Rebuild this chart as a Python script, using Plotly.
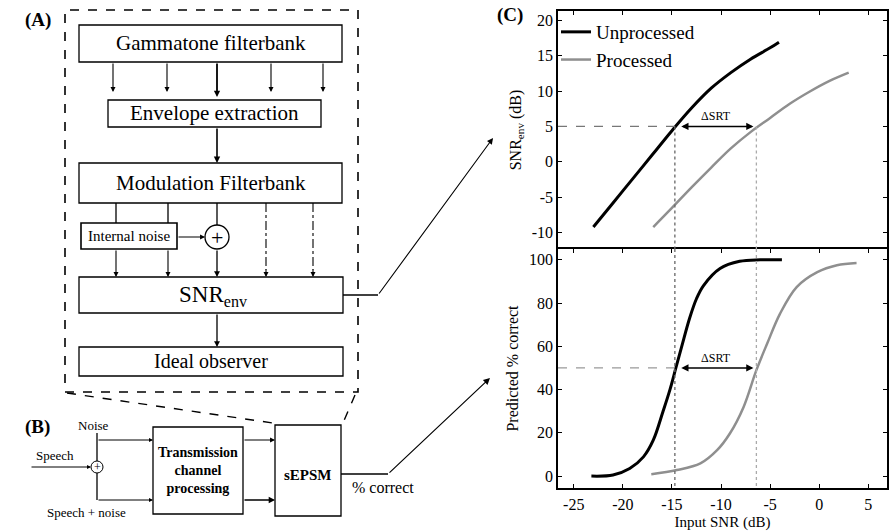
import plotly.graph_objects as go

W, H = 896, 532
FONT = "Liberation Serif, Times New Roman, Tinos, DejaVu Serif, serif"

# ---------------- data ----------------
snr_top_unproc = [-23.0, -21.0, -19.0, -17.0, -15.0, -13.0, -11.0, -9.0, -7.0, -5.0, -4.1]
env_unproc = [-9.2, -5.8, -2.4, 1.0, 4.4, 7.6, 10.4, 12.6, 14.5, 16.1, 16.9]
snr_top_proc = [-16.9, -15.0, -13.0, -11.0, -9.0, -7.0, -5.0, -3.0, -1.0, 1.0, 3.0]
env_proc = [-9.2, -6.5, -3.6, -0.8, 1.9, 4.2, 6.2, 8.2, 9.9, 11.4, 12.6]

snr_bot_unproc = [-23.2, -21.0, -19.3, -17.9, -16.9, -15.9, -15.2, -14.6, -14.0,
                  -13.2, -12.5, -11.8, -10.1, -8.1, -6.0, -3.8]
pc_unproc = [0.0, 0.5, 3.5, 8.9, 16.6, 30.0, 40.0, 50.0, 60.0,
             73.0, 82.0, 88.0, 96.0, 99.3, 100.0, 100.0]
snr_bot_proc = [-17.1, -14.5, -12.1, -10.4, -9.1, -7.7, -6.4, -5.3, -4.0,
                -2.3, -0.2, 1.8, 3.8]
pc_proc = [0.9, 2.8, 5.9, 12.0, 19.7, 32.0, 49.0, 61.3, 75.0,
           87.4, 94.3, 97.5, 98.5]

x_ticks = [-25, -20, -15, -10, -5, 0, 5]
x_ticktext = ["-25", "-20", "-15", "-10", "-5", "0", "5"]
y1_ticks = [-10, -5, 0, 5, 10, 15, 20]
y1_ticktext = ["-10", "-5", "0", "5", "10", "15", "20"]
y2_ticks = [0, 20, 40, 60, 80, 100]
y2_ticktext = ["0", "20", "40", "60", "80", "100"]

srt_unproc = -14.7
srt_proc = -6.4
env_criterion = 5
pc_criterion = 50

# ---------------- helpers ----------------
def px(x):
    return x / W

def py(y):
    return 1 - y / H

shapes = []
annotations = []

def box(x0, y0, x1, y1, dash="solid", width=1.3):
    shapes.append(dict(type="rect", xref="paper", yref="paper",
                       x0=px(x0), x1=px(x1), y0=py(y1), y1=py(y0),
                       line=dict(color="black", width=width, dash=dash)))

def line(x0, y0, x1, y1, dash="solid", width=1.3, color="black"):
    shapes.append(dict(type="line", xref="paper", yref="paper",
                       x0=px(x0), x1=px(x1), y0=py(y0), y1=py(y1),
                       line=dict(color=color, width=width, dash=dash)))

def arrow(tx, ty, hx, hy, width=1.2, size=1.0):
    annotations.append(dict(xref="paper", yref="paper", x=px(hx), y=py(hy),
                            ax=tx - hx, ay=ty - hy, text="", showarrow=True,
                            arrowhead=2, arrowsize=size, arrowwidth=width,
                            arrowcolor="black", standoff=0, startstandoff=0))

def text(x, y, s, size=18, bold=False, xanchor="center"):
    if bold:
        s = "<b>" + s + "</b>"
    annotations.append(dict(xref="paper", yref="paper", x=px(x), y=py(y),
                            text=s, showarrow=False, xanchor=xanchor,
                            yanchor="middle",
                            font=dict(family=FONT, size=size, color="black")))

def circle(cx, cy, r, width=1.3):
    shapes.append(dict(type="circle", xref="paper", yref="paper",
                       x0=px(cx - r), x1=px(cx + r), y0=py(cy + r), y1=py(cy - r),
                       line=dict(color="black", width=width)))

# ---------------- diagram (A) ----------------
box(65, 10, 358, 392, dash="dash", width=1.6)
text(38, 20, "(A)", 19, bold=True)

box(79, 25, 342, 62)
text(211, 43, "Gammatone filterbank", 21)
for xx in [113, 167, 271, 323]:
    arrow(xx, 62, xx, 92, width=1.1, size=0.9)
arrow(217, 62, 217, 97, width=1.8, size=0.7)

box(108, 100, 321, 127)
text(214, 113, "Envelope extraction", 21)
arrow(217, 127, 217, 163, width=1.6, size=0.8)

box(79, 163, 342, 203)
text(211, 183, "Modulation Filterbank", 21)

for xx in [116, 168]:
    line(xx, 203, xx, 223)
    arrow(xx, 249, xx, 277, width=1.1, size=0.9)
line(217, 203, 217, 225)
arrow(217, 249, 217, 277, width=1.3, size=0.9)
for xx in [266, 313]:
    line(xx, 203, xx, 270, dash="dashdot", width=1.1)
    arrow(xx, 268, xx, 277, width=1.1, size=0.9)

box(81, 223, 177, 249, width=1.6)
text(129, 236, "Internal noise", 15)
arrow(177, 237, 205, 237, width=1.1, size=0.9)
circle(217, 237, 12)
text(217, 237, "+", 22)

box(79, 277, 343, 313)
text(213, 296, "SNR<sub>env</sub>", 23)
arrow(217, 313, 217, 347, width=1.3, size=0.9)

box(79, 347, 343, 376)
text(211, 361, "Ideal observer", 20)

line(343, 295, 378, 295)
arrow(378, 295, 493, 138, width=1.1, size=1.1)

# ---------------- diagram (B) ----------------
text(37, 427, "(B)", 19, bold=True)
line(67, 393, 273, 423, dash="dash", width=1.4)
line(355, 395, 343, 423, dash="dash", width=1.4)

box(153, 427, 243, 514)
text(198, 470, "Transmission<br>channel<br>processing", 14, bold=True)
box(275, 425, 341, 516)
text(308, 475, "sEPSM", 15, bold=True)
arrow(243, 440, 275, 440, width=1.1, size=0.9)
arrow(243, 500, 275, 500, width=1.4, size=0.9)

text(93, 425, "Noise", 13)
text(55, 455, "Speech", 13)
text(86, 512, "Speech + noise", 13)
line(97, 433, 97, 461)
line(97, 473, 97, 500)
circle(97, 467, 6, width=1.0)
text(97, 467, "+", 12)
arrow(30, 467, 91, 467, width=1.0, size=0.8)
arrow(97, 440, 153, 440, width=1.0, size=0.8)
arrow(97, 500, 153, 500, width=1.0, size=0.8)

line(341, 474, 388, 474)
arrow(388, 474, 490, 378, width=1.2, size=1.1)
text(383, 487, "% correct", 16)

text(510, 15, "(C)", 19, bold=True)

# ---------------- plot (C) ----------------
fig = go.Figure()
fig.add_trace(go.Scatter(x=snr_top_unproc, y=env_unproc, mode="lines",
                         line=dict(color="black", width=3, shape="spline"),
                         name="Unprocessed", xaxis="x", yaxis="y"))
fig.add_trace(go.Scatter(x=snr_top_proc, y=env_proc, mode="lines",
                         line=dict(color="#8f8f8f", width=2.5, shape="spline"),
                         name="Processed", xaxis="x", yaxis="y"))
fig.add_trace(go.Scatter(x=snr_bot_unproc, y=pc_unproc, mode="lines",
                         line=dict(color="black", width=3, shape="spline"),
                         name="Unprocessed", showlegend=False, xaxis="x2", yaxis="y2"))
fig.add_trace(go.Scatter(x=snr_bot_proc, y=pc_proc, mode="lines",
                         line=dict(color="#8f8f8f", width=2.5, shape="spline"),
                         name="Processed", showlegend=False, xaxis="x2", yaxis="y2"))

XR = [-26.6, 6.9]
Y1R = [-12.3, 21.3]
Y2R = [-5.5, 105]

# reference lines
shapes.append(dict(type="line", xref="x", yref="y", x0=XR[0], x1=srt_unproc,
                   y0=env_criterion, y1=env_criterion,
                   line=dict(color="#777", width=1.3, dash="dash")))
shapes.append(dict(type="line", xref="x2", yref="y2", x0=XR[0], x1=srt_unproc,
                   y0=pc_criterion, y1=pc_criterion,
                   line=dict(color="#999", width=1.3, dash="dash")))
for xv, col in [(srt_unproc, "#666"), (srt_proc, "#aaa")]:
    shapes.append(dict(type="line", xref="x", yref="y", x0=xv, x1=xv,
                       y0=env_criterion, y1=Y1R[0],
                       line=dict(color=col, width=1.3, dash="dot")))
    shapes.append(dict(type="line", xref="x2", yref="y2", x0=xv, x1=xv,
                       y0=Y2R[1], y1=Y2R[0],
                       line=dict(color=col, width=1.3, dash="dot")))

for xa, ya, yv in [("x", "y", env_criterion), ("x2", "y2", pc_criterion)]:
    annotations.append(dict(xref=xa, yref=ya, x=srt_proc - 0.3, y=yv,
                            axref=xa, ayref=ya, ax=srt_unproc + 0.5, ay=yv,
                            text="", showarrow=True, arrowhead=2, arrowside="end+start",
                            arrowsize=0.9, arrowwidth=1.6, arrowcolor="black",
                            standoff=0, startstandoff=0))
    annotations.append(dict(xref=xa, yref=ya, x=(srt_proc + srt_unproc) / 2, y=yv,
                            text="ΔSRT", showarrow=False, yshift=10,
                            font=dict(family=FONT, size=12, color="black")))

axis_common = dict(showline=True, linecolor="black", linewidth=1.5,
                   ticks="inside", ticklen=4, tickcolor="black", showgrid=False,
                   zeroline=False, tickfont=dict(family=FONT, size=16, color="black"))

fig.update_layout(
    width=W, height=H, margin=dict(l=0, r=0, t=0, b=0),
    paper_bgcolor="white", plot_bgcolor="white",
    font=dict(family=FONT, color="black"),
    xaxis=dict(domain=[px(558), px(887)], range=XR, anchor="y", side="top",
               mirror=False, tickvals=x_ticks, ticktext=x_ticktext,
               showticklabels=False, **axis_common),
    yaxis=dict(domain=[py(249), py(11)], range=Y1R, anchor="x", mirror="ticks",
               tickvals=y1_ticks, ticktext=y1_ticktext,
               title=dict(text="SNR<sub>env</sub> (dB)", standoff=6,
                          font=dict(family=FONT, size=16, color="black")),
               **axis_common),
    xaxis2=dict(domain=[px(558), px(887)], range=XR, anchor="y2", mirror="ticks",
                tickvals=x_ticks, ticktext=x_ticktext, ticklabelstandoff=1,
                title=dict(text="Input SNR (dB)", standoff=5,
                           font=dict(family=FONT, size=15, color="black")),
                **axis_common),
    yaxis2=dict(domain=[py(488), py(249)], range=Y2R, anchor="x2", mirror="ticks",
                tickvals=y2_ticks, ticktext=y2_ticktext,
                title=dict(text="Predicted % correct", standoff=6,
                           font=dict(family=FONT, size=16, color="black")),
                **axis_common),
    legend=dict(x=px(556), y=py(13), xanchor="left", yanchor="top",
                bgcolor="rgba(0,0,0,0)", borderwidth=0,
                font=dict(family=FONT, size=19, color="black"),
                tracegroupgap=0),
    shapes=shapes,
    annotations=annotations,
)

fig.write_html("out.html")
